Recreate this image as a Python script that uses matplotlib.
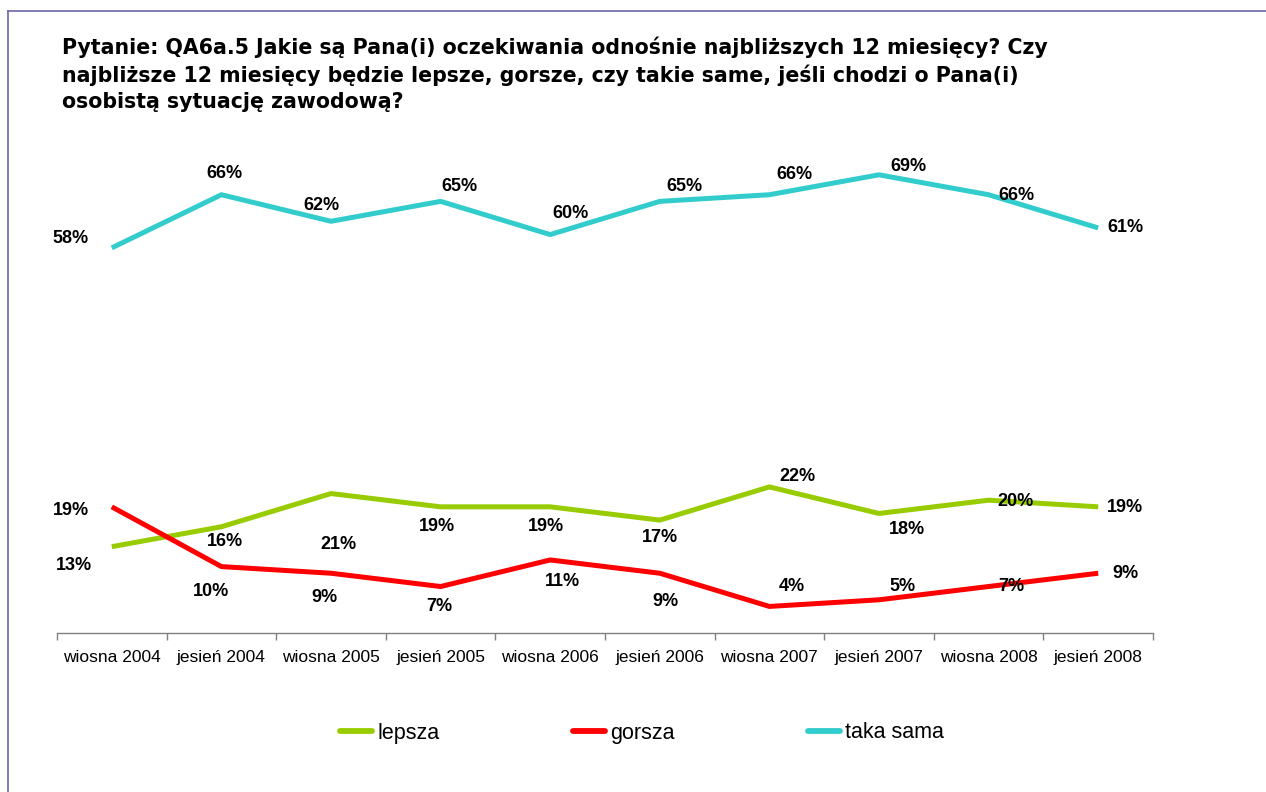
import numpy as np
import matplotlib
matplotlib.use("Agg")
import matplotlib.pyplot as plt
from matplotlib.lines import Line2D

# Data
periods = ["wiosna 2004", "jesień 2004", "wiosna 2005", "jesień 2005", "wiosna 2006",
           "jesień 2006", "wiosna 2007", "jesień 2007", "wiosna 2008", "jesień 2008"]
lepsza = [13, 16, 21, 19, 19, 17, 22, 18, 20, 19]
gorsza = [19, 10, 9, 7, 11, 9, 4, 5, 7, 9]
taka_sama = [58, 66, 62, 65, 60, 65, 66, 69, 66, 61]

title = ("Pytanie: QA6a.5 Jakie są Pana(i) oczekiwania odnośnie najbliższych 12 miesięcy? Czy\n"
         "najbliższe 12 miesięcy będzie lepsze, gorsze, czy takie same, jeśli chodzi o Pana(i)\n"
         "osobistą sytuację zawodową?")

# label offsets in pixels (dx, dy) relative to each point
off_lepsza = [(-38, -19), (4, -15), (7, -51), (-4, -20), (-4, -20),
              (0, -17), (28, 10), (28, -16), (27, -1), (27, -1)]
off_gorsza = [(-41, -4), (-10, -25), (-7, -24), (-1, -20), (12, -22),
              (6, -28), (22, 20), (23, 13), (23, 0), (27, 0)]
off_taka = [(-41, 9), (3, 21), (-10, 16), (19, 15), (20, 21),
            (25, 15), (25, 20), (29, 8), (28, -1), (27, 0)]

GREEN = "#99cc00"
RED = "#ff0000"
CYAN = "#33cccc"

fig = plt.figure(figsize=(12.66, 7.92), dpi=100)
ax = fig.add_axes([57 / 1266, 1 - 633 / 792, (1153 - 57) / 1266, (633 - 141.6) / 792])

x = np.arange(len(periods))
series = [(lepsza, GREEN, "lepsza", off_lepsza),
          (gorsza, RED, "gorsza", off_gorsza),
          (taka_sama, CYAN, "taka sama", off_taka)]

for vals, col, name, offs in series:
    ax.plot(x, vals, color=col, lw=3.6, solid_capstyle="butt", label=name)
    for xi, v, (dx, dy) in zip(x, vals, offs):
        ax.annotate(f"{v}%", (xi, v), xytext=(dx, dy), textcoords="offset pixels",
                    ha="center", va="center", fontsize=13, fontweight="bold",
                    family="Liberation Sans", color="black")

ax.set_xlim(-0.5, len(periods) - 0.5)
ax.set_ylim(0, 74)
ax.set_yticks([])
for s in ["top", "right", "left"]:
    ax.spines[s].set_visible(False)
ax.spines["bottom"].set_color("#808080")
ax.spines["bottom"].set_linewidth(1)

ax.set_xticks(x)
ax.set_xticklabels(periods, family="Liberation Sans", fontsize=12.5)
ax.tick_params(axis="x", which="major", length=0, pad=12)
ax.set_xticks(np.arange(-0.5, len(periods)), minor=True)
ax.tick_params(axis="x", which="minor", length=5, width=1, color="#808080", direction="out")

fig.text(62 / 1266, 1 - 37 / 792, title, ha="left", va="top", fontsize=14.8,
         fontweight="bold", family="DejaVu Sans", linespacing=1.35)

handles = [Line2D([], [], color=c, lw=4.2, solid_capstyle="round") for _, c, _, _ in series]
labels = [n for _, _, n, _ in series]
fig.legend(handles, labels, loc="center", bbox_to_anchor=(642 / 1266, 1 - 733 / 792),
           ncol=3, frameon=False, prop={"family": "Liberation Sans", "size": 15.5},
           handlelength=1.5, handletextpad=0.23, columnspacing=6.2)

# frame lines on left and top
border = "#6868a8"
fig.add_artist(Line2D([8 / 1266, 8 / 1266], [0, 1 - 11 / 792], color=border, lw=1.2,
                      transform=fig.transFigure))
fig.add_artist(Line2D([8 / 1266, 1], [1 - 11 / 792, 1 - 11 / 792], color=border, lw=1.2,
                      transform=fig.transFigure))

fig.savefig("out.png", dpi=100)
